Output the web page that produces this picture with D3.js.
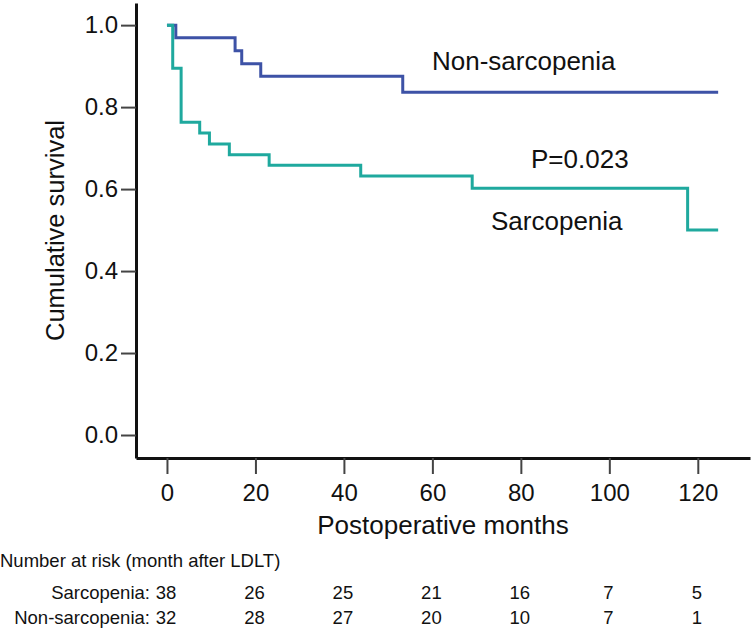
<!DOCTYPE html>
<html>
<head>
<meta charset="utf-8">
<script src="https://cdn.jsdelivr.net/npm/d3@7"></script>
<style>
  html, body { margin: 0; padding: 0; background: #fff; }
  svg { display: block; font-family: "Liberation Sans", Arial, Helvetica, sans-serif; }
</style>
</head>
<body>
<svg id="chart" width="755" height="632"></svg>
<script>
// ---- Data ----
const xTicks = [0, 20, 40, 60, 80, 100, 120];
const yTicks = [0.0, 0.2, 0.4, 0.6, 0.8, 1.0];

// Kaplan-Meier step points: [month, survival]
const nonSarcTimes = [0, 2.0, 15.4, 16.9, 21.2, 53.3, 124.6];
const nonSarcSurv  = [1.0, 0.969, 0.9375, 0.906, 0.875, 0.836, 0.836];

const sarcTimes = [0, 1.3, 3.2, 7.4, 9.6, 14.1, 23.1, 43.8, 69.0, 117.7, 124.6];
const sarcSurv  = [1.0, 0.895, 0.763, 0.737, 0.710, 0.684, 0.658, 0.632, 0.602, 0.500, 0.500];

const riskTimes = [0, 20, 40, 60, 80, 100, 120];
const riskSarc = [38, 26, 25, 21, 16, 7, 5];
const riskNonSarc = [32, 28, 27, 20, 10, 7, 1];

const groupNames = ["Sarcopenia", "Non-sarcopenia"];
const pValueText = "P=0.023";

// ---- Setup ----
const svg = d3.select("#chart");
const x = d3.scaleLinear().domain([-7, 131.8]).range([136, 750]);
const y = d3.scaleLinear().domain([-0.0561, 1.054]).range([458, 3]);

const blue = "#3d52a6";
const teal = "#1fa99e";

// Axes
const xAxis = svg.append("g")
  .attr("transform", `translate(0,${y.range()[0]})`)
  .call(d3.axisBottom(x).tickValues(xTicks).tickSize(16).tickSizeOuter(0).tickPadding(10).tickFormat(d3.format("d")));
const yAxis = svg.append("g")
  .attr("transform", `translate(${x.range()[0]},0)`)
  .call(d3.axisLeft(y).tickValues(yTicks).tickSize(15).tickSizeOuter(0).tickPadding(3).tickFormat(d3.format(".1f")));

[xAxis, yAxis].forEach(g => {
  g.select(".domain").attr("stroke", "#111").attr("stroke-width", 3);
  g.selectAll(".tick line").attr("stroke", "#444").attr("stroke-width", 2);
  g.selectAll(".tick text").attr("fill", "#111").attr("font-size", 24)
    .attr("font-family", "'Liberation Sans', Arial, sans-serif");
});
xAxis.selectAll(".tick text").attr("dy", "0.71em");

// Axis titles
svg.append("text")
  .attr("x", (x.range()[0] + x.range()[1]) / 2)
  .attr("y", 534)
  .attr("text-anchor", "middle")
  .attr("font-size", 26)
  .attr("fill", "#111")
  .text("Postoperative months");

svg.append("text")
  .attr("transform", `translate(64,${(y.range()[0] + y.range()[1]) / 2}) rotate(-90)`)
  .attr("text-anchor", "middle")
  .attr("font-size", 25.5)
  .attr("fill", "#111")
  .text("Cumulative survival");

// Curves
const stepLine = d3.line().x(d => x(d[0])).y(d => y(d[1])).curve(d3.curveStepAfter);
const nonSarcData = nonSarcTimes.map((t, i) => [t, nonSarcSurv[i]]);
const sarcData = sarcTimes.map((t, i) => [t, sarcSurv[i]]);

svg.append("path").datum(nonSarcData)
  .attr("d", stepLine).attr("fill", "none")
  .attr("stroke", blue).attr("stroke-width", 3);
svg.append("path").datum(sarcData)
  .attr("d", stepLine).attr("fill", "none")
  .attr("stroke", teal).attr("stroke-width", 3);

// Annotations
svg.append("text").attr("x", 432).attr("y", 70).attr("font-size", 26).attr("fill", "#111").text(groupNames[1]);
svg.append("text").attr("x", 531).attr("y", 168).attr("font-size", 26).attr("fill", "#111").text(pValueText);
svg.append("text").attr("x", 491).attr("y", 230).attr("font-size", 26).attr("fill", "#111").text(groupNames[0]);

// Number at risk table
svg.append("text").attr("x", 0).attr("y", 567).attr("font-size", 18.5).attr("fill", "#111")
  .text("Number at risk (month after LDLT)");

const rows = [
  { name: groupNames[0], vals: riskSarc, yb: 599 },
  { name: groupNames[1], vals: riskNonSarc, yb: 624 }
];
rows.forEach(r => {
  svg.append("text").attr("x", x(0) - 17).attr("y", r.yb)
    .attr("text-anchor", "end").attr("font-size", 18.5).attr("fill", "#111")
    .text(r.name + ":");
  svg.selectAll(null).data(r.vals).enter().append("text")
    .attr("x", (d, i) => x(riskTimes[i]) - 1)
    .attr("y", r.yb)
    .attr("text-anchor", "middle")
    .attr("font-size", 18.5).attr("fill", "#111")
    .text(d => d);
});
</script>
</body>
</html>
